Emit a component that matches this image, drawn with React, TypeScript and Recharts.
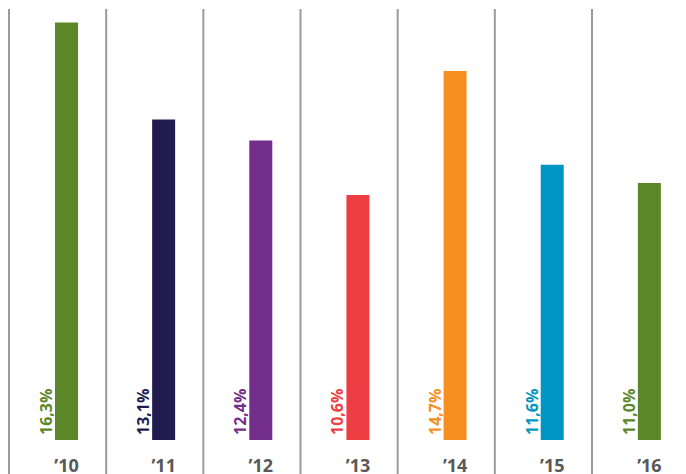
import React from 'react';
import { BarChart, Bar, XAxis, YAxis, Cell, LabelList } from 'recharts';

const years = ['\u201910', '\u201911', '\u201912', '\u201913', '\u201914', '\u201915', '\u201916'];
const values = [16.3, 13.1, 12.4, 10.6, 14.7, 11.6, 11.0];
const valueLabels = ['16,3%', '13,1%', '12,4%', '10,6%', '14,7%', '11,6%', '11,0%'];
const colors = ['#5c8728', '#221c51', '#732d8a', '#ee3e44', '#f68f1f', '#0095c4', '#5c8728'];
const gridTicks = [0, 1, 2, 3, 4, 5, 6];

const data = years.map((year, i) => ({ year, value: values[i], label: valueLabels[i] }));

const FONT = '"Open Sans", "Noto Sans", sans-serif';

const BarValueLabel = (props: any) => {
  const { x, y, height, index } = props;
  const tx = x - 3;
  const ty = y + height - 5;
  return (
    <text
      x={tx}
      y={ty}
      transform={`rotate(-90, ${tx}, ${ty})`}
      textAnchor="start"
      fill={colors[index]}
      fontFamily={FONT}
      fontWeight={700}
      fontSize={16}
    >
      {valueLabels[index]}
    </text>
  );
};

const YearTick = (props: any) => {
  const { x, payload } = props;
  return (
    <text
      x={x}
      y={472}
      textAnchor="middle"
      fill="#595959"
      fontFamily={FONT}
      fontWeight={700}
      fontSize={18}
    >
      {payload.value}
    </text>
  );
};

const GridTick = (props: any) => {
  const { x, y } = props;
  return <line x1={x} x2={x} y1={y} y2={y + 465} stroke="#9a9a9a" strokeWidth={2} />;
};

export default function App() {
  return (
    <div style={{ position: 'absolute', left: 0, top: 0, width: 686, height: 474, overflow: 'hidden', background: '#fff' }}>
      <BarChart
        width={700}
        height={474}
        data={data}
        margin={{ top: 0, right: 2, bottom: 0, left: 9 }}
        barCategoryGap={0}
      >
        <XAxis
          xAxisId="grid"
          type="number"
          orientation="top"
          height={9}
          domain={[0, 6]}
          allowDataOverflow
          ticks={gridTicks}
          interval={0}
          padding={{ left: 0, right: 106 }}
          axisLine={false}
          tickLine={false}
          tickSize={0}
          tickMargin={0}
          tick={<GridTick />}
        />
        <XAxis
          dataKey="year"
          padding={{ left: 9, right: 0 }}
          height={34}
          axisLine={false}
          tickLine={false}
          tick={<YearTick />}
          interval={0}
        />
        <YAxis hide domain={[2.5, 16.75]} allowDataOverflow />
        <Bar dataKey="value" barSize={23} isAnimationActive={false}>
          {data.map((d, i) => (
            <Cell key={d.year} fill={colors[i]} />
          ))}
          <LabelList dataKey="label" content={<BarValueLabel />} />
        </Bar>
      </BarChart>
    </div>
  );
}
